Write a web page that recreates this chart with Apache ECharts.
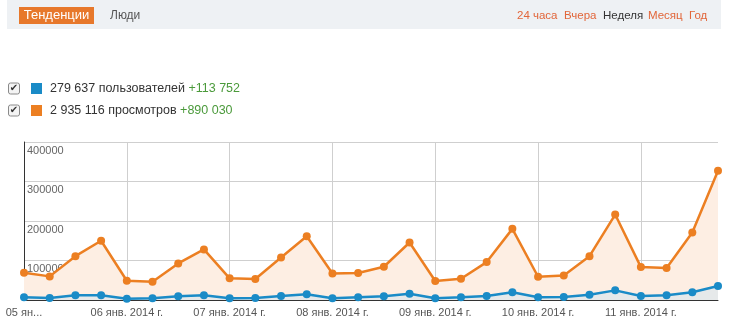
<!DOCTYPE html>
<html>
<head>
<meta charset="utf-8">
<script src="https://cdn.jsdelivr.net/npm/echarts@6/dist/echarts.min.js"></script>
<style>
  html, body { margin: 0; padding: 0; background: #fff; }
  #chart { width: 736px; height: 329px; }
</style>
</head>
<body>
<div id="chart"></div>
<script>
// Six-hour buckets, 05–11 Jan 2014
const categories = [];
['05', '06', '07', '08', '09', '10', '11'].forEach(function (d) {
  ['00:00', '06:00', '12:00', '18:00'].forEach(function (h) {
    categories.push(d + '.01.2014 ' + h);
  });
});

// One label per day
const dayLabels = [
  '05 ян...', '06 янв. 2014 г.', '07 янв. 2014 г.', '08 янв. 2014 г.',
  '09 янв. 2014 г.', '10 янв. 2014 г.', '11 янв. 2014 г.'
];

const yTicks = [0, 100000, 200000, 300000, 400000];

// Users per bucket
const users = [
  6800, 5100, 11900, 11900, 3400, 4200, 9300, 11900,
  4300, 5000, 10100, 14300, 4200, 6800, 9300, 16000,
  4200, 6800, 10100, 19400, 6800, 7600, 13500, 24400,
  10100, 11800, 19400, 35400
];

// Page views per bucket
const views = [
  69000, 59800, 111000, 150000, 48700, 46200, 92600, 128000,
  54800, 53000, 107800, 161600, 67300, 68200, 84200, 145600,
  48000, 53900, 96000, 180100, 58900, 62300, 111000, 216300,
  83300, 80800, 170900, 327400
];

const legendRows = [
  { total: '279 637 пользователей', delta: '+113 752', color: '#1a8bc7' },
  { total: '2 935 116 просмотров', delta: '+890 030', color: '#ec7f22' }
];

const FONT = '"Liberation Sans", Arial, sans-serif';
const chart = echarts.init(document.getElementById('chart'), null, { renderer: 'canvas' });

// Header bar, tabs, period links, legend with checkboxes
const graphics = [
  { type: 'rect', shape: { x: 7, y: 0, width: 714, height: 29 }, style: { fill: '#eef1f4' }, silent: true },
  { type: 'rect', shape: { x: 19, y: 7, width: 75, height: 17 }, style: { fill: '#e7782b' }, silent: true },
  { type: 'text', x: 56.5, y: 15.5, style: { text: 'Тенденции', fill: '#fff', font: '13px ' + FONT, textAlign: 'center', textVerticalAlign: 'middle' } },
  { type: 'text', x: 110, y: 15.5, style: { text: 'Люди', fill: '#555', font: '12px ' + FONT, textVerticalAlign: 'middle' } }
];

const periods = [
  { t: '24 часа', x: 517, c: '#e2663a' },
  { t: 'Вчера', x: 564, c: '#e2663a' },
  { t: 'Неделя', x: 603, c: '#333' },
  { t: 'Месяц', x: 648, c: '#e2663a' },
  { t: 'Год', x: 689, c: '#e2663a' }
];
periods.forEach(function (p) {
  graphics.push({ type: 'text', x: p.x, y: 15.5, style: { text: p.t, fill: p.c, font: '11.5px ' + FONT, textVerticalAlign: 'middle' } });
});

legendRows.forEach(function (r, i) {
  const cy = 88.5 + i * 22;
  graphics.push(
    { type: 'rect', shape: { x: 8.5, y: cy - 5.5, width: 11, height: 11, r: 2 }, style: { fill: '#f4f4f4', stroke: '#8a8a8a', lineWidth: 1 } },
    { type: 'text', x: 14, y: cy, style: { text: '✔', fill: '#333', font: '10px "DejaVu Sans"', textAlign: 'center', textVerticalAlign: 'middle' } },
    { type: 'rect', shape: { x: 31, y: cy - 5.5, width: 11, height: 11 }, style: { fill: r.color } },
    { type: 'text', x: 50, y: cy, style: {
      text: '{a|' + r.total + ' }{b|' + r.delta + '}',
      textVerticalAlign: 'middle',
      rich: {
        a: { fill: '#333', font: '12.5px ' + FONT, fontSize: 12.5, fontFamily: FONT },
        b: { fill: '#4b9a3b', font: '12.5px ' + FONT, fontSize: 12.5, fontFamily: FONT }
      }
    } }
  );
});

chart.setOption({
  animation: false,
  backgroundColor: '#fff',
  graphic: graphics,
  grid: { left: 24, top: 142, right: 18, bottom: 29, containLabel: false },
  xAxis: {
    type: 'category',
    data: categories,
    boundaryGap: false,
    axisLine: { show: true, lineStyle: { color: '#333', width: 1 } },
    axisTick: { show: false },
    axisLabel: {
      interval: 3,
      hideOverlap: false,
      color: '#555',
      fontSize: 11,
      fontFamily: FONT,
      margin: 7,
      formatter: function (v, idx) { return dayLabels[Math.floor(idx / 4)]; }
    },
    splitLine: { show: true, interval: 3, lineStyle: { color: '#cfcfcf', width: 1 } }
  },
  yAxis: {
    type: 'value',
    min: yTicks[0],
    max: yTicks[yTicks.length - 1],
    interval: yTicks[1] - yTicks[0],
    axisLine: { show: true, lineStyle: { color: '#333', width: 1 } },
    axisTick: { show: false },
    axisLabel: {
      inside: true,
      showMinLabel: false,
      verticalAlign: 'top',
      margin: 3,
      padding: [3, 0, 0, 0],
      color: '#666',
      fontSize: 11,
      fontFamily: FONT,
      formatter: function (v) { return String(v); }
    },
    splitLine: { show: true, lineStyle: { color: '#cfcfcf', width: 1 } }
  },
  series: [
    {
      name: 'просмотры',
      type: 'line',
      data: views,
      symbol: 'circle',
      symbolSize: 8,
      showAllSymbol: true,
      lineStyle: { color: '#ec7f22', width: 2.5 },
      itemStyle: { color: '#ec7f22' },
      areaStyle: { color: '#fdeee3', opacity: 1 },
      z: 2
    },
    {
      name: 'пользователи',
      type: 'line',
      data: users,
      symbol: 'circle',
      symbolSize: 8,
      showAllSymbol: true,
      lineStyle: { color: '#1a8bc7', width: 2.5 },
      itemStyle: { color: '#1a8bc7' },
      areaStyle: { color: '#e6e9ea', opacity: 1 },
      z: 3
    }
  ]
});
</script>
</body>
</html>
